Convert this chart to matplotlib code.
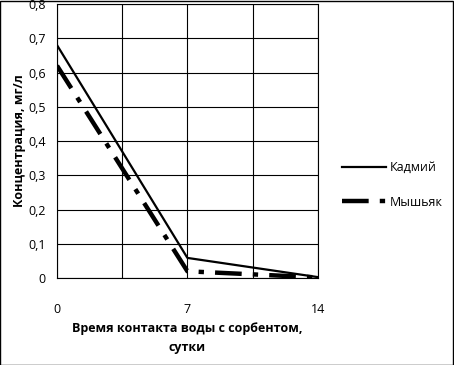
import matplotlib.pyplot as plt

days = [0, 7, 14]
cadmium = [0.68, 0.059, 0.003]
arsenic = [0.62, 0.02, 0.002]
x_labels = ['0', '', '7', '', '14']

plt.rcParams['font.family'] = ['Open Sans', 'DejaVu Sans']
plt.rcParams['font.size'] = 9

fig = plt.figure(figsize=(4.54, 3.65), dpi=100)
ax = fig.add_axes([0.1256, 0.238, 0.5744, 0.751])

ax.plot(days, cadmium, color='black', lw=1.6, label='Кадмий')
ax.plot(days, arsenic, color='black', lw=3.2, dashes=(6, 2.5, 1.2, 2.5),
        label='Мышьяк')

ax.set_xlim(0, 14)
ax.set_ylim(0, 0.8)
ax.set_xticks([0, 3.5, 7, 10.5, 14])
ax.set_xticklabels(x_labels)
ax.set_yticks([i / 10 for i in range(9)])
ax.set_yticklabels(['0'] + [f'0,{i}' for i in range(1, 9)])
ax.tick_params(axis='x', length=0, pad=18)
ax.tick_params(axis='y', length=0, pad=8)
ax.grid(True, color='black', lw=0.8)
for s in ax.spines.values():
    s.set_color('black')
    s.set_linewidth(0.8)

ax.set_ylabel('Концентрация, мг/л', fontweight='bold', labelpad=2)
ax.set_xlabel('Время контакта воды с сорбентом,\nсутки', fontweight='bold',
              labelpad=4, linespacing=1.6)

ax.legend(loc='center left', bbox_to_anchor=(1.05, 0.34), frameon=False,
          handlelength=3.5, labelspacing=1.7, handletextpad=0.3)

fig.add_artist(plt.Rectangle((0.001, 0.001), 0.997, 0.997, fill=False,
                             edgecolor='black', lw=1, transform=fig.transFigure))

fig.savefig('out.png', dpi=100)
